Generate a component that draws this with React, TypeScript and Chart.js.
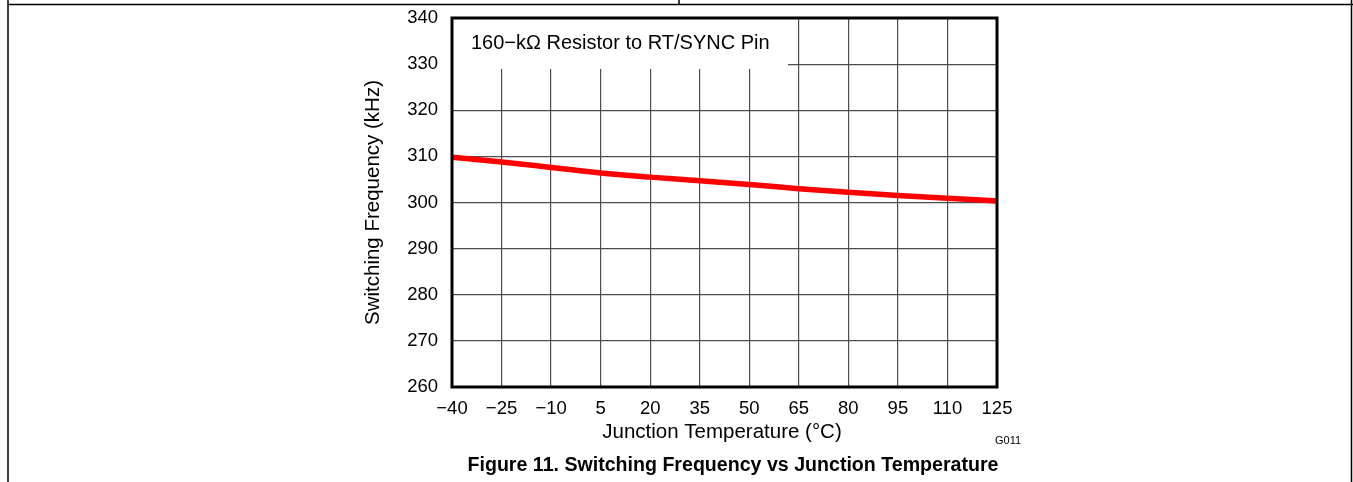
import React, { useEffect, useRef } from "react";
import { Chart, registerables } from "chart.js";

Chart.register(...registerables);

const temperatures = [-40, -25, -10, 5, 20, 35, 50, 65, 80, 95, 110, 125];
const frequencies = [309.8, 308.8, 307.6, 306.4, 305.5, 304.7, 303.9, 303.0, 302.2, 301.5, 300.9, 300.35];
const xTicks = [-40, -25, -10, 5, 20, 35, 50, 65, 80, 95, 110, 125];
const yTicks = [260, 270, 280, 290, 300, 310, 320, 330, 340];

const annotationText = "160\u2212k\u03A9 Resistor to RT/SYNC Pin";
const xTitle = "Junction Temperature (\u00B0C)";
const yTitle = "Switching Frequency (kHz)";
const figureCode = "G011";
const caption = "Figure 11. Switching Frequency vs Junction Temperature";

const FONT = "'Liberation Sans', Arial, Helvetica, sans-serif";
const TARGET = { left: 452, top: 18, right: 997, bottom: 387 };

const fmt = (v: number) => (v < 0 ? "\u2212" + Math.abs(v) : String(v));

export default function App() {
  const ref = useRef<HTMLCanvasElement | null>(null);

  useEffect(() => {
    const canvas = ref.current;
    if (!canvas) return;

    const decor = {
      id: "decor",
      beforeDraw(chart: any) {
        const { ctx } = chart;
        ctx.save();
        ctx.fillStyle = "#fff";
        ctx.fillRect(0, 0, chart.width, chart.height);
        ctx.strokeStyle = "#000";
        ctx.lineWidth = 1.5;
        ctx.beginPath();
        ctx.moveTo(8, 4.5);
        ctx.lineTo(1353, 4.5);
        ctx.moveTo(8, 0);
        ctx.lineTo(8, 482);
        ctx.moveTo(1351.5, 0);
        ctx.lineTo(1351.5, 482);
        ctx.moveTo(679, 0);
        ctx.lineTo(679, 4.5);
        ctx.stroke();
        ctx.restore();
      },
      afterDatasetsDraw(chart: any) {
        const { ctx, chartArea } = chart;
        const { left, right, top, bottom } = chartArea;
        ctx.save();
        ctx.fillStyle = "#fff";
        ctx.fillRect(left + 1, top + 1, 787 - left, 68 - top);
        ctx.fillStyle = "#000";
        ctx.font = `20px ${FONT}`;
        ctx.textAlign = "left";
        ctx.textBaseline = "middle";
        ctx.fillText(annotationText, 471, 43);
        ctx.strokeStyle = "#000";
        ctx.lineWidth = 3;
        ctx.strokeRect(left, top, right - left, bottom - top);
        ctx.textAlign = "center";
        ctx.font = `20.5px ${FONT}`;
        ctx.fillText(xTitle, 722, 432);
        ctx.save();
        ctx.translate(373, 202.5);
        ctx.rotate(-Math.PI / 2);
        ctx.fillText(yTitle, 0, 0);
        ctx.restore();
        ctx.font = `11px ${FONT}`;
        ctx.fillText(figureCode, 1008, 441);
        ctx.font = `bold 19.6px ${FONT}`;
        ctx.fillText(caption, 733, 466);
        ctx.restore();
      },
    };

    let pad = { left: 0, right: 1353 - TARGET.right, top: TARGET.top, bottom: 0 };

    const chart = new Chart(canvas, {
      type: "line",
      data: {
        datasets: [
          {
            data: temperatures.map((t, i) => ({ x: t, y: frequencies[i] })),
            borderColor: "#ff0000",
            borderWidth: 5.5,
            pointRadius: 0,
            tension: 0.35,
            cubicInterpolationMode: "monotone",
          },
        ],
      },
      options: {
        animation: false,
        responsive: false,
        devicePixelRatio: 1,
        layout: { padding: pad },
        plugins: { legend: { display: false }, tooltip: { enabled: false } },
        scales: {
          x: {
            type: "linear",
            min: -40,
            max: 125,
            afterFit: (s: any) => {
              s.height = 482 - TARGET.bottom;
              s.paddingLeft = 0;
              s.paddingRight = 0;
            },
            afterBuildTicks: (s: any) => {
              s.ticks = xTicks.map((v) => ({ value: v }));
            },
            grid: { color: "#4d4d4d", lineWidth: 1.2, drawTicks: false },
            border: { display: false },
            ticks: {
              padding: 11,
              color: "#000",
              font: { family: FONT, size: 18.5 },
              maxRotation: 0,
              autoSkip: false,
              callback: (v: any) => fmt(Number(v)),
            },
          },
          y: {
            type: "linear",
            min: 260,
            max: 340,
            afterFit: (s: any) => {
              s.width = TARGET.left;
              s.paddingTop = 0;
              s.paddingBottom = 0;
            },
            afterBuildTicks: (s: any) => {
              s.ticks = yTicks.map((v) => ({ value: v }));
            },
            grid: { color: "#4d4d4d", lineWidth: 1.2, drawTicks: false },
            border: { display: false },
            ticks: {
              padding: 14,
              color: "#000",
              font: { family: FONT, size: 18.5 },
              autoSkip: false,
              callback: (v: any) => fmt(Number(v)),
            },
          },
        },
      },
      plugins: [decor],
    } as any);

    for (let i = 0; i < 3; i++) {
      const ca = chart.chartArea;
      const dl = TARGET.left - ca.left;
      const dt = TARGET.top - ca.top;
      const dr = ca.right - TARGET.right;
      const db = ca.bottom - TARGET.bottom;
      if (Math.abs(dl) + Math.abs(dt) + Math.abs(dr) + Math.abs(db) < 0.5) break;
      pad = {
        left: pad.left + dl,
        top: pad.top + dt,
        right: pad.right + dr,
        bottom: pad.bottom + db,
      };
      (chart.options as any).layout = { padding: pad };
      chart.update();
    }

    return () => chart.destroy();
  }, []);

  return (
    <div style={{ position: "absolute", left: 0, top: 0, width: 1353, height: 482 }}>
      <canvas ref={ref} width={1353} height={482} style={{ display: "block", width: 1353, height: 482 }} />
    </div>
  );
}
